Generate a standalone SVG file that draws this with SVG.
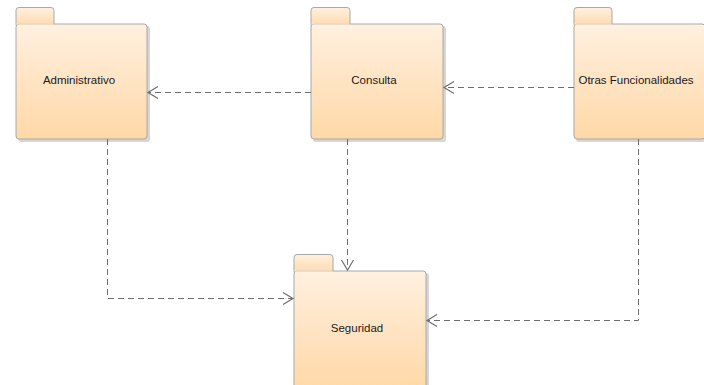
<svg xmlns="http://www.w3.org/2000/svg" width="704" height="385" viewBox="0 0 704 385">
  <style>
    .pkg { fill: url(#pkgFill); stroke: #a8a8a8; stroke-width: 1; }
    .shadow { fill: #d6d6d6; }
    .label { font-family: "Liberation Sans", Arial, sans-serif; font-size: 11.5px; fill: #1a1a1a; text-anchor: middle; }
    .dep { fill: none; stroke: #6e6e6e; stroke-width: 1; stroke-dasharray: 6 4; }
    .head { fill: none; stroke: #6e6e6e; stroke-width: 1.2; }
  </style>
  <defs>
    <linearGradient id="pkgFill" x1="0" y1="0" x2="0" y2="1">
      <stop offset="0" stop-color="#fff0e0"/>
      <stop offset="1" stop-color="#ffd8a6"/>
    </linearGradient>
  </defs>
  <rect width="704" height="385" fill="#ffffff"/>

  <!-- Packages -->
  <g id="administrativo">
    <rect class="shadow" x="18" y="26" width="132" height="116" rx="3"/>
    <rect class="pkg" x="16" y="7.5" width="38" height="20" rx="3"/>
    <rect class="pkg" x="16" y="24" width="131" height="115" rx="3"/>
    <line x1="16.5" y1="24" x2="53.5" y2="24" stroke="#ffeedd"/>
    <text class="label" x="79" y="84">Administrativo</text>
  </g>

  <g id="consulta">
    <rect class="shadow" x="313" y="26" width="133" height="116" rx="3"/>
    <rect class="pkg" x="311" y="7.5" width="39" height="20" rx="3"/>
    <rect class="pkg" x="311" y="24" width="132" height="115" rx="3"/>
    <line x1="311.5" y1="24" x2="349.5" y2="24" stroke="#ffeedd"/>
    <text class="label" x="374" y="84">Consulta</text>
  </g>

  <g id="otras-funcionalidades">
    <rect class="shadow" x="576" y="26" width="132" height="116" rx="3"/>
    <rect class="pkg" x="574" y="7.5" width="38" height="20" rx="3"/>
    <rect class="pkg" x="574" y="24" width="131" height="115" rx="3"/>
    <line x1="574.5" y1="24" x2="611.5" y2="24" stroke="#ffeedd"/>
    <text class="label" x="636" y="84">Otras Funcionalidades</text>
  </g>

  <g id="seguridad">
    <rect class="shadow" x="296" y="273" width="133" height="120" rx="3"/>
    <rect class="pkg" x="294" y="254.5" width="39" height="20" rx="3"/>
    <rect class="pkg" x="294" y="271" width="132" height="120" rx="3"/>
    <line x1="294.5" y1="271" x2="332.5" y2="271" stroke="#ffeedd"/>
    <text class="label" x="357" y="332">Seguridad</text>
  </g>

  <!-- Dependencies -->
  <g id="connectors">
    <!-- Consulta -> Administrativo -->
    <path class="dep" d="M311 92.5 H148"/>
    <path class="head" d="M158 86.5 L148 92.5 L158 98.5"/>
    <!-- Otras Funcionalidades -> Consulta -->
    <path class="dep" d="M574 87.5 H444"/>
    <path class="head" d="M454 81.5 L444 87.5 L454 93.5"/>
    <!-- Administrativo -> Seguridad -->
    <path class="dep" d="M107.5 139 V298.5 H293"/>
    <path class="head" d="M283 292.5 L293 298.5 L283 304.5"/>
    <!-- Consulta -> Seguridad -->
    <path class="dep" d="M347.5 139 V270"/>
    <path class="head" d="M341.5 260 L347.5 270 L353.5 260"/>
    <!-- Otras Funcionalidades -> Seguridad -->
    <path class="dep" d="M638.5 139 V320.5 H427"/>
    <path class="head" d="M437 314.5 L427 320.5 L437 326.5"/>
  </g>
</svg>
